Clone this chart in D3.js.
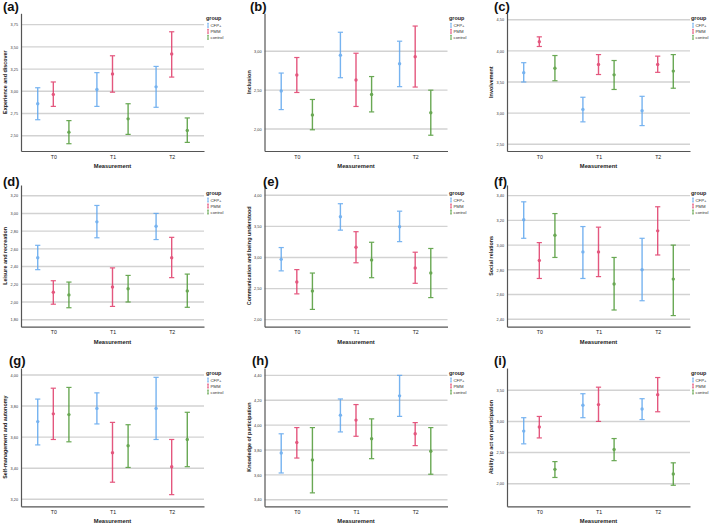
<!DOCTYPE html>
<html>
<head>
<meta charset="utf-8">
<script src="https://cdn.jsdelivr.net/npm/d3@7/dist/d3.min.js"></script>
<style>
  html, body { margin: 0; padding: 0; background: #fff; }
  svg { display: block; font-family: "Liberation Sans", Arial, sans-serif; }
</style>
</head>
<body>
<svg id="chart" width="709" height="524"></svg>
<script>
// ---------- data ----------
const categories = ["T0", "T1", "T2"];
const groups = ["CFP+", "PMM", "control"];
const groupColors = ["#5fa6ee", "#e03a68", "#4f9a36"];
const panelLabels = ["(a)", "(b)", "(c)", "(d)", "(e)", "(f)", "(g)", "(h)", "(i)"];
const yTitles = [
  "Experience and discover", "Inclusion", "Involvement",
  "Leisure and recreation", "Communication and being understood", "Social relations",
  "Self-management and autonomy", "Knowledge of participation", "Ability to act on participation"
];
const yTicks = [
  [2.5, 2.75, 3.0, 3.25, 3.5, 3.75],
  [2.0, 2.5, 3.0],
  [2.5, 3.0, 3.5, 4.0, 4.5],
  [1.8, 2.0, 2.2, 2.4, 2.6, 2.8, 3.0, 3.2],
  [2.0, 2.5, 3.0, 3.5, 4.0],
  [2.4, 2.6, 2.8, 3.0, 3.2, 3.4],
  [3.2, 3.4, 3.6, 3.8, 4.0],
  [3.4, 3.6, 3.8, 4.0, 4.2, 4.4],
  [2.0, 2.5, 3.0, 3.5]
];
const yDomains = [
  [2.328, 3.878], [1.717, 3.489], [2.392, 4.603],
  [1.721, 3.321], [1.887, 4.166], [2.34, 3.486],
  [3.155, 4.045], [3.347, 4.459], [1.637, 3.858]
];

// values per panel: rows = groups (CFP+, PMM, control), columns = T0, T1, T2
const aMean = [[2.86, 3.02, 3.05], [2.965, 3.195, 3.42], [2.54, 2.69, 2.56]];
const aLow  = [[2.68, 2.83, 2.82], [2.83, 2.99, 3.16], [2.41, 2.515, 2.425]];
const aHigh = [[3.04, 3.21, 3.28], [3.105, 3.40, 3.67], [2.67, 2.86, 2.70]];

const bMean = [[2.49, 2.95, 2.84], [2.695, 2.63, 2.93], [2.18, 2.445, 2.21]];
const bLow  = [[2.25, 2.66, 2.545], [2.47, 2.29, 2.54], [1.99, 2.22, 1.92]];
const bHigh = [[2.72, 3.245, 3.13], [2.92, 2.975, 3.325], [2.38, 2.675, 2.50]];

const cMean = [[3.65, 3.06, 3.04], [4.145, 3.78, 3.78], [3.72, 3.615, 3.675]];
const cLow  = [[3.50, 2.86, 2.80], [4.07, 3.62, 3.655], [3.52, 3.38, 3.40]];
const cHigh = [[3.81, 3.255, 3.27], [4.225, 3.94, 3.915], [3.925, 3.845, 3.94]];

const dMean = [[2.50, 2.905, 2.855], [2.11, 2.17, 2.50], [2.08, 2.15, 2.125]];
const dLow  = [[2.365, 2.725, 2.705], [1.975, 1.95, 2.275], [1.935, 2.0, 1.94]];
const dHigh = [[2.64, 3.09, 3.00], [2.24, 2.385, 2.73], [2.225, 2.30, 2.315]];

const eMean = [[2.97, 3.655, 3.495], [2.605, 3.165, 2.83], [2.46, 2.96, 2.75]];
const eLow  = [[2.785, 3.44, 3.255], [2.415, 2.915, 2.585], [2.165, 2.675, 2.355]];
const eHigh = [[3.16, 3.865, 3.745], [2.805, 3.415, 3.085], [2.75, 3.245, 3.145]];

const fMean = [[3.205, 2.945, 2.80], [2.875, 2.945, 3.115], [3.08, 2.685, 2.725]];
const fLow  = [[3.055, 2.73, 2.55], [2.73, 2.745, 2.92], [2.90, 2.475, 2.43]];
const fHigh = [[3.35, 3.15, 3.055], [3.02, 3.145, 3.31], [3.255, 2.90, 3.00]];

const gMean = [[3.70, 3.785, 3.785], [3.75, 3.50, 3.41], [3.745, 3.545, 3.585]];
const gLow  = [[3.55, 3.685, 3.585], [3.585, 3.31, 3.23], [3.57, 3.405, 3.41]];
const gHigh = [[3.845, 3.885, 3.985], [3.915, 3.695, 3.585], [3.92, 3.68, 3.76]];

const hMean = [[3.775, 4.08, 4.235], [3.86, 4.04, 3.93], [3.72, 3.89, 3.79]];
const hLow  = [[3.615, 3.945, 4.07], [3.735, 3.91, 3.835], [3.455, 3.73, 3.605]];
const hHigh = [[3.93, 4.21, 4.40], [3.98, 4.165, 4.02], [3.98, 4.05, 3.98]];

const iMean = [[2.845, 3.26, 3.20], [2.91, 3.27, 3.43], [2.23, 2.55, 2.155]];
const iLow  = [[2.64, 3.06, 3.03], [2.735, 3.0, 3.155], [2.10, 2.37, 1.975]];
const iHigh = [[3.06, 3.445, 3.365], [3.08, 3.55, 3.705], [2.355, 2.725, 2.335]];

const panelMeans = [aMean, bMean, cMean, dMean, eMean, fMean, gMean, hMean, iMean];
const panelLows  = [aLow, bLow, cLow, dLow, eLow, fLow, gLow, hLow, iLow];
const panelHighs = [aHigh, bHigh, cHigh, dHigh, eHigh, fHigh, gHigh, hHigh, iHigh];

// ---------- layout ----------
const colX = [21, 264.5, 507];
const plotW = 183;
const rowTop = [13.3, 185, 368];
const rowBottom = [151, 326.7, 506.3];
const titlePos = [[3, 11], [250, 11], [494, 11], [3, 186], [263, 186], [494, 186], [9, 365], [252, 365], [494, 365]];
const legendOffset = [5, 8, 5];
const legendGap = [2, 1.5, 1];

const svg = d3.select("#chart");
const fmt = v => d3.format(".2f")(v).replace(".", ",");

panelMeans.forEach((means, p) => {
  const col = p % 3, row = Math.floor(p / 3);
  const x0 = colX[col], x1 = x0 + plotW;
  const top = rowTop[row], bottom = rowBottom[row];
  const g = svg.append("g");

  const x = d3.scalePoint().domain(categories).range([x0, x1]).padding(0.546);
  const xg = d3.scalePoint().domain(groups).range([-15.6, 15.6]);
  const y = d3.scaleLinear().domain(yDomains[p]).range([bottom, top]);

  // gridlines
  g.selectAll(".grid").data(yTicks[p]).enter().append("line")
    .attr("x1", x0).attr("x2", x1)
    .attr("y1", d => y(d)).attr("y2", d => y(d))
    .attr("stroke", "#d2d2d2").attr("stroke-width", 1.4);

  // y axis
  const yAxis = d3.axisLeft(y).tickValues(yTicks[p]).tickFormat(fmt).tickSize(0).tickPadding(3);
  const ya = g.append("g").attr("transform", `translate(${x0},0)`).call(yAxis);
  ya.select(".domain").attr("stroke", "#555").attr("stroke-width", 1.2);
  ya.selectAll("text").attr("font-size", 3.8).attr("fill", "#333").attr("font-family", "Liberation Sans, Arial");

  // x axis
  const xAxis = d3.axisBottom(x).tickSize(0).tickPadding(4);
  const xa = g.append("g").attr("transform", `translate(0,${bottom})`).call(xAxis);
  xa.select(".domain").attr("stroke", "#555").attr("stroke-width", 1.2);
  xa.selectAll("text").attr("font-size", 5.2).attr("fill", "#222").attr("font-family", "Liberation Sans, Arial");

  // axis titles
  g.append("text")
    .attr("x", (x0 + x1) / 2).attr("y", bottom + 17)
    .attr("text-anchor", "middle").attr("font-size", 5.8).attr("font-weight", "bold").attr("fill", "#222")
    .text("Measurement");
  g.append("text")
    .attr("transform", `translate(${x0 - 14},${(top + bottom) / 2}) rotate(-90)`)
    .attr("text-anchor", "middle").attr("font-size", 5.4).attr("font-weight", "bold").attr("fill", "#222")
    .text(yTitles[p]);

  // panel label
  g.append("text")
    .attr("x", titlePos[p][0]).attr("y", titlePos[p][1])
    .attr("font-size", 13).attr("font-weight", "bold").attr("fill", "#111")
    .text(panelLabels[p]);

  // error bars
  groups.forEach((grp, gi) => {
    categories.forEach((cat, ci) => {
      const cx = x(cat) + xg(grp);
      const lo = panelLows[p][gi][ci], hi = panelHighs[p][gi][ci], m = means[gi][ci];
      const eb = g.append("g").attr("stroke", groupColors[gi]).attr("fill", groupColors[gi]).attr("opacity", 0.85);
      eb.append("line").attr("x1", cx).attr("x2", cx).attr("y1", y(lo)).attr("y2", y(hi)).attr("stroke-width", 1.4);
      eb.append("line").attr("x1", cx - 2.6).attr("x2", cx + 2.6).attr("y1", y(lo)).attr("y2", y(lo)).attr("stroke-width", 1.2);
      eb.append("line").attr("x1", cx - 2.6).attr("x2", cx + 2.6).attr("y1", y(hi)).attr("y2", y(hi)).attr("stroke-width", 1.2);
      eb.append("circle").attr("cx", cx).attr("cy", y(m)).attr("r", 1.7).attr("stroke", "none");
    });
  });

  // legend
  const lx = x1 + legendGap[col], ly = top + legendOffset[row];
  const lg = g.append("g");
  lg.append("text").attr("x", lx).attr("y", ly + 2).attr("font-size", 5.4).attr("font-weight", "bold").attr("fill", "#222").text("group");
  groups.forEach((grp, gi) => {
    const yy = ly + 7 + gi * 6;
    const c = groupColors[gi];
    lg.append("line").attr("x1", lx + 2).attr("x2", lx + 2).attr("y1", yy - 2).attr("y2", yy + 2).attr("stroke", c).attr("stroke-width", 0.9);
    lg.append("line").attr("x1", lx + 1.2).attr("x2", lx + 2.8).attr("y1", yy - 2).attr("y2", yy - 2).attr("stroke", c).attr("stroke-width", 0.7);
    lg.append("line").attr("x1", lx + 1.2).attr("x2", lx + 2.8).attr("y1", yy + 2).attr("y2", yy + 2).attr("stroke", c).attr("stroke-width", 0.7);
    lg.append("text").attr("x", lx + 4.5).attr("y", yy + 1.6).attr("font-size", 4.3).attr("fill", "#333").text(grp);
  });
});
</script>
</body>
</html>
